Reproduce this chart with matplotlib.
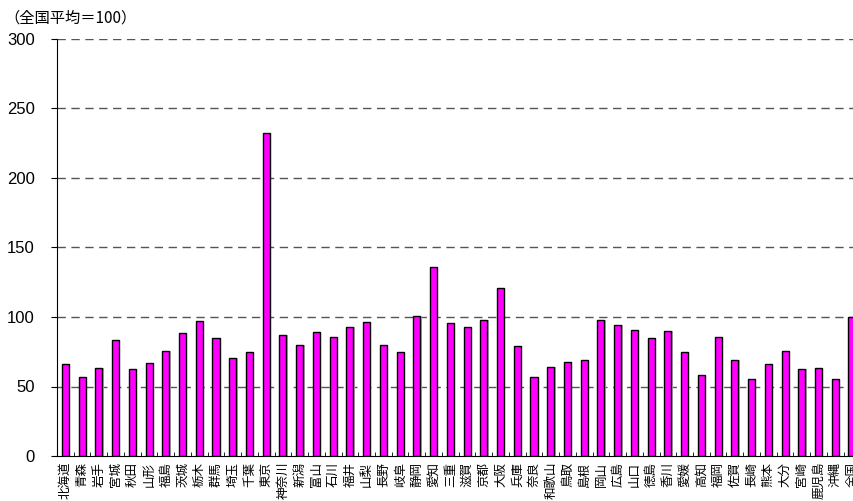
import matplotlib
matplotlib.use("Agg")
import matplotlib.pyplot as plt
import numpy as np

plt.rcParams['font.family'] = ['Noto Sans CJK JP', 'DejaVu Sans']

# 都道府県別 指数（全国平均＝100）
prefectures = ['北海道', '青森', '岩手', '宮城', '秋田', '山形', '福島', '茨城', '栃木', '群馬',
               '埼玉', '千葉', '東京', '神奈川', '新潟', '富山', '石川', '福井', '山梨', '長野',
               '岐阜', '静岡', '愛知', '三重', '滋賀', '京都', '大阪', '兵庫', '奈良', '和歌山',
               '鳥取', '島根', '岡山', '広島', '山口', '徳島', '香川', '愛媛', '高知', '福岡',
               '佐賀', '長崎', '熊本', '大分', '宮崎', '鹿児島', '沖縄', '全国']
values = [66.2, 56.6, 63.1, 83.5, 62.8, 66.9, 75.8, 88.7, 96.9, 84.9,
          70.7, 75.0, 232.4, 86.8, 79.6, 89.0, 85.8, 93.0, 96.2, 80.1,
          74.8, 100.9, 135.7, 95.4, 92.6, 97.6, 120.9, 78.9, 57.1, 63.8,
          67.4, 69.3, 97.8, 94.2, 90.4, 84.6, 89.9, 74.6, 58.5, 85.4,
          69.1, 55.6, 66.0, 75.3, 62.4, 63.5, 55.2, 100.0]
yticks = [0, 50, 100, 150, 200, 250, 300]

fig = plt.figure(figsize=(8.54, 5.01), dpi=100)
ax = fig.add_axes([57 / 854, 1 - 456 / 501, 1 - 57 / 854, 417 / 501])

x = np.arange(len(prefectures))
# gray shadow then the magenta bars
ax.bar(x + 0.08, values, width=0.42, color='#b0b0b0', zorder=2)
ax.bar(x, values, width=0.42, color='#ff00ff', edgecolor='black', linewidth=1.0, zorder=3)

ax.set_yticks(yticks)
ax.set_yticklabels([str(v) for v in yticks], fontsize=12, family=['Liberation Sans', 'DejaVu Sans'])
for v in yticks[1:]:
    ax.axhline(v, color='#555555', linestyle=(0, (6, 4)), linewidth=1.0, zorder=1)

ax.set_xticks(x)
ax.set_xticklabels(prefectures, rotation=90, fontsize=9)
ax.tick_params(axis='x', length=0, pad=4)
ax.set_xticks(np.arange(-0.5, 47, 1), minor=True)
ax.tick_params(axis='x', which='minor', direction='in', length=3, color='black')
ax.tick_params(axis='y', direction='out', length=4, pad=12, color='black')

# limits last so tick setting does not widen them
ax.set_xlim(-0.5, 47.12)
ax.set_ylim(0, 300)

ax.spines['top'].set_visible(False)
ax.spines['right'].set_visible(False)
ax.spines['left'].set_color('black')
ax.spines['bottom'].set_color('black')

fig.text(0.005, 1 - 18 / 501, '（全国平均＝100）', fontsize=11, va='center', ha='left')

fig.savefig('out.png', dpi=100)
